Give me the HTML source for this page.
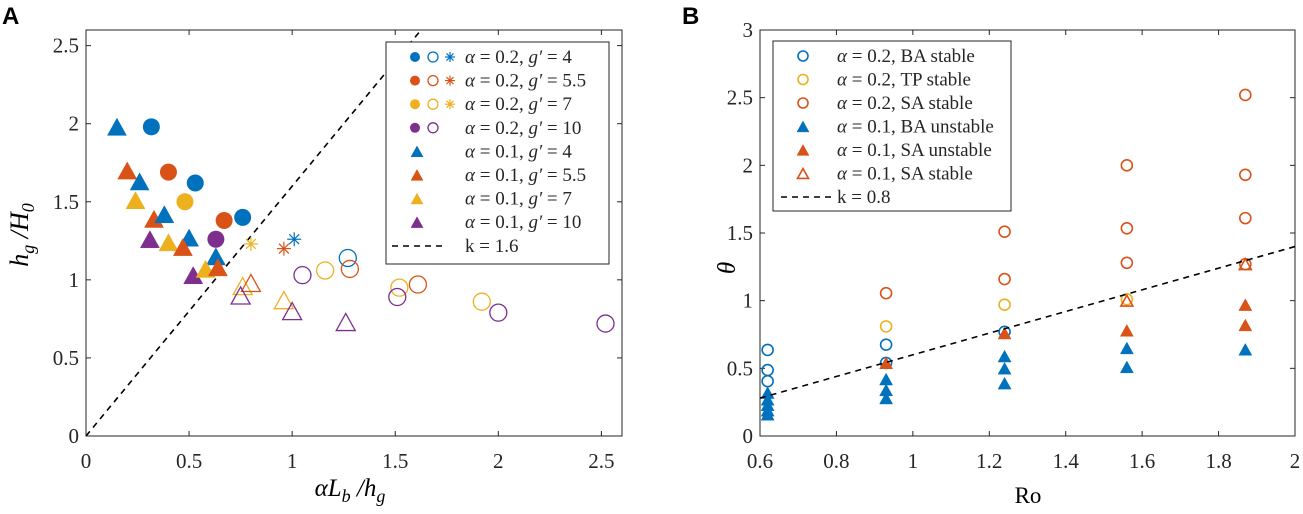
<!DOCTYPE html>
<html><head><meta charset="utf-8">
<style>
html,body{margin:0;padding:0;background:#fff;}
svg{display:block;font-family:"Liberation Serif",serif;}
.tick{font-size:21px;fill:#262626;}
.leg{font-size:19px;fill:#262626;}
</style></head>
<body>
<svg id="fig" width="1303" height="514" viewBox="0 0 1303 514" xmlns="http://www.w3.org/2000/svg">
<text x="2" y="24" font-family="Liberation Sans, sans-serif" font-weight="bold" font-size="24">A</text>
<text x="682" y="24" font-family="Liberation Sans, sans-serif" font-weight="bold" font-size="24">B</text>
<g id="A"></g>
<g id="B"></g>
<text x="28" y="235" transform="rotate(-90 28 235)" text-anchor="middle" font-size="26" font-style="italic">h<tspan font-size="18" dy="6">g</tspan><tspan dy="-6"> /H</tspan><tspan font-size="18" dy="6">0</tspan></text>
<text x="350" y="496" text-anchor="middle" font-size="25" font-style="italic">αL<tspan font-size="18" dy="6">b</tspan><tspan dy="-6"> /h</tspan><tspan font-size="18" dy="6">g</tspan></text>
<text x="735" y="268" transform="rotate(-90 735 268)" text-anchor="middle" font-size="25" font-style="italic">θ</text>
<text x="1028" y="503" text-anchor="middle" font-size="23">Ro</text>
</svg>
<script>
// ---------- Panel A data ----------
const aFilledCircleX = [0.317,0.40,0.53,0.48,0.67,0.76,0.63];
const aFilledCircleY = [1.98,1.69,1.62,1.50,1.38,1.40,1.26];
const aFilledCircleG = [4,5.5,4,7,5.5,4,10];
const aFilledTriX = [0.15,0.20,0.26,0.24,0.33,0.38,0.31,0.40,0.50,0.47,0.63,0.52,0.58,0.64];
const aFilledTriY = [1.98,1.70,1.63,1.51,1.39,1.42,1.26,1.24,1.27,1.21,1.15,1.03,1.07,1.08];
const aFilledTriG = [4,5.5,4,7,5.5,4,10,7,4,5.5,4,10,7,5.5];
const aStarX = [0.80,0.96,1.01];
const aStarY = [1.23,1.20,1.26];
const aStarG = [7,5.5,4];
const aOpenCircleX = [1.27,1.28,1.16,1.05,1.52,1.61,1.51,1.92,2.00,2.52];
const aOpenCircleY = [1.14,1.07,1.06,1.03,0.95,0.97,0.89,0.86,0.79,0.72];
const aOpenCircleG = [4,5.5,7,10,7,5.5,10,7,10,10];
const aOpenTriX = [0.76,0.80,0.75,0.96,1.00,1.26];
const aOpenTriY = [0.96,0.98,0.90,0.87,0.80,0.73];
const aOpenTriG = [7,5.5,10,7,10,10];
const aSlope = 1.6;
const aXTicks = [0,0.5,1,1.5,2,2.5];
const aYTicks = [0,0.5,1,1.5,2,2.5];
const aXTickLabels = ["0","0.5","1","1.5","2","2.5"];
const aYTickLabels = ["0","0.5","1","1.5","2","2.5"];
const aLegendLabels = ["= 0.2, g\u2032 = 4","= 0.2, g\u2032 = 5.5","= 0.2, g\u2032 = 7","= 0.2, g\u2032 = 10","= 0.1, g\u2032 = 4","= 0.1, g\u2032 = 5.5","= 0.1, g\u2032 = 7","= 0.1, g\u2032 = 10"];
const aLegendG = [4,5.5,7,10,4,5.5,7,10];
// ---------- Panel B data ----------
const bBAStableX = [0.62,0.62,0.62,0.93,0.93,1.24];
const bBAStableY = [0.636,0.487,0.405,0.675,0.54,0.77];
const bTPStableX = [0.93,1.24,1.56];
const bTPStableY = [0.81,0.97,1.01];
const bSAStableX = [0.93,1.24,1.24,1.56,1.56,1.56,1.87,1.87,1.87,1.87];
const bSAStableY = [1.055,1.51,1.16,2.00,1.535,1.28,2.52,1.93,1.61,1.27];
const bBAUnstableX = [0.62,0.62,0.62,0.62,0.62,0.93,0.93,0.93,1.24,1.24,1.24,1.56,1.56,1.87];
const bBAUnstableY = [0.32,0.27,0.23,0.19,0.16,0.42,0.34,0.28,0.59,0.50,0.39,0.65,0.51,0.64];
const bSAUnstableX = [0.93,1.24,1.56,1.87,1.87];
const bSAUnstableY = [0.54,0.76,0.78,0.97,0.82];
const bSATriStableX = [1.56,1.87];
const bSATriStableY = [1.00,1.27];
const bSlope = 0.8;
const bOffset = 0.25;
const bXTicks = [0.6,0.8,1,1.2,1.4,1.6,1.8,2];
const bYTicks = [0,0.5,1,1.5,2,2.5,3];
const bXTickLabels = ["0.6","0.8","1","1.2","1.4","1.6","1.8","2"];
const bYTickLabels = ["0","0.5","1","1.5","2","2.5","3"];
const bLegendLabels = ["= 0.2, BA stable","= 0.2, TP stable","= 0.2, SA stable","= 0.1, BA unstable","= 0.1, SA unstable","= 0.1, SA stable"];

const NS="http://www.w3.org/2000/svg";
const COL={4:"#0072BD",5.5:"#D95319",7:"#EDB120",10:"#7E2F8E"};
function mk(parent,tag,attrs){const e=document.createElementNS(NS,tag);for(const k in attrs)e.setAttribute(k,attrs[k]);parent.appendChild(e);return e;}

const axA={x0:86,x1:622,y0:436,y1:30,xmin:0,xmax:2.6,ymin:0,ymax:2.6};
const axB={x0:760,x1:1295,y0:436,y1:30,xmin:0.6,xmax:2,ymin:0,ymax:3};
function sx(ax,v){return ax.x0+(v-ax.xmin)/(ax.xmax-ax.xmin)*(ax.x1-ax.x0);}
function sy(ax,v){return ax.y0-(v-ax.ymin)/(ax.ymax-ax.ymin)*(ax.y0-ax.y1);}

function circle(g,cx,cy,r,col,filled){
  return mk(g,"circle",{cx:cx,cy:cy,r:r,fill:filled?col:"none",stroke:col,"stroke-width":filled?0:1.3});
}
function tri(g,cx,cy,s,col,filled){
  const h=s*0.9;
  return mk(g,"polygon",{points:`${cx},${cy-h/2} ${cx-s/2},${cy+h/2} ${cx+s/2},${cy+h/2}`,fill:filled?col:"none",stroke:col,"stroke-width":filled?0.5:1.3,"stroke-linejoin":"miter"});
}
function star(g,cx,cy,r,col){
  const s=mk(g,"g",{stroke:col,"stroke-width":1.2});
  for(let a=0;a<180;a+=45){const t=a*Math.PI/180;mk(s,"line",{x1:cx-r*Math.cos(t),y1:cy-r*Math.sin(t),x2:cx+r*Math.cos(t),y2:cy+r*Math.sin(t)});}
  return s;
}
function frame(g,ax,xt,yt,xl,yl,name){
  const f=mk(g,"rect",{x:ax.x0,y:ax.y1,width:ax.x1-ax.x0,height:ax.y0-ax.y1,fill:"none",stroke:"#262626","stroke-width":1});
  
  
  xt.forEach((v,i)=>{const x=sx(ax,v);
    mk(g,"line",{x1:x,y1:ax.y0,x2:x,y2:ax.y0-5,stroke:"#262626"});
    mk(g,"line",{x1:x,y1:ax.y1,x2:x,y2:ax.y1+5,stroke:"#262626"});
    const t=mk(g,"text",{x:x,y:ax.y0+32,"text-anchor":"middle",class:"tick"});t.textContent=xl[i];
    
    
  });
  yt.forEach((v,i)=>{const y=sy(ax,v);
    mk(g,"line",{x1:ax.x0,y1:y,x2:ax.x0+5,y2:y,stroke:"#262626"});
    mk(g,"line",{x1:ax.x1,y1:y,x2:ax.x1-5,y2:y,stroke:"#262626"});
    const t=mk(g,"text",{x:ax.x0-7,y:y+7,"text-anchor":"end",class:"tick"});t.textContent=yl[i];
    
    
  });
}

// ---------- Panel A ----------
const A=document.getElementById("A");
frame(A,axA,aXTicks,aYTicks,aXTickLabels,aYTickLabels,"panel-a");
const aClip=mk(A,"clipPath",{id:"clipA"});mk(aClip,"rect",{x:axA.x0,y:axA.y1,width:axA.x1-axA.x0,height:axA.y0-axA.y1});
const aLineX2=Math.min(axA.xmax,axA.ymax/aSlope);
const aLine=mk(A,"line",{x1:sx(axA,0),y1:sy(axA,0),x2:sx(axA,aLineX2),y2:sy(axA,aSlope*aLineX2),stroke:"#000","stroke-width":1.6,"stroke-dasharray":"6,5","clip-path":"url(#clipA)"});


aOpenTriX.forEach((v,i)=>{const m=tri(A,sx(axA,v),sy(axA,aOpenTriY[i]),19,COL[aOpenTriG[i]],false);
  
  });
aOpenCircleX.forEach((v,i)=>{const m=circle(A,sx(axA,v),sy(axA,aOpenCircleY[i]),8.5,COL[aOpenCircleG[i]],false);
  
  });
aStarX.forEach((v,i)=>{const m=star(A,sx(axA,v),sy(axA,aStarY[i]),7,COL[aStarG[i]]);
  
  });
aFilledCircleX.forEach((v,i)=>{const m=circle(A,sx(axA,v),sy(axA,aFilledCircleY[i]),8.5,COL[aFilledCircleG[i]],true);
  
  });
aFilledTriX.forEach((v,i)=>{const m=tri(A,sx(axA,v),sy(axA,aFilledTriY[i]),19,COL[aFilledTriG[i]],true);
  
  });
const aLeg=mk(A,"g",{});


mk(aLeg,"rect",{x:386,y:42,width:223,height:222,fill:"#fff",stroke:"#262626","stroke-width":1});
aLegendLabels.forEach((lab,i)=>{
  const y=57+i*23.6, col=COL[aLegendG[i]];
  if(i<4){circle(aLeg,415,y,5,col,true);circle(aLeg,433,y,5,col,false);if(i<3)star(aLeg,450,y,5,col);}
  else tri(aLeg,417,y,12,col,true);
  const t=mk(aLeg,"text",{x:465,y:y+6,class:"leg"});
  t.innerHTML='<tspan font-style="italic">α</tspan>  '+lab.replace("g\u2032",'<tspan font-style="italic">g\u2032</tspan>');
  t.setAttribute('xml:space','preserve');
  
  
});
mk(aLeg,"line",{x1:392,y1:246,x2:442,y2:246,stroke:"#000","stroke-width":1.6,"stroke-dasharray":"6,5"});
const aKt=mk(aLeg,"text",{x:465,y:252,class:"leg"});aKt.textContent="k = 1.6";



// ---------- Panel B ----------
const B=document.getElementById("B");
frame(B,axB,bXTicks,bYTicks,bXTickLabels,bYTickLabels,"panel-b");
const bC={ba:"#0072BD",tp:"#EDB120",sa:"#D95319"};
bBAStableX.forEach((v,i)=>{const m=circle(B,sx(axB,v),sy(axB,bBAStableY[i]),5.5,bC.ba,false);m.setAttribute("stroke-width",1.6);
  
  });
bTPStableX.forEach((v,i)=>{const m=circle(B,sx(axB,v),sy(axB,bTPStableY[i]),5.5,bC.tp,false);m.setAttribute("stroke-width",1.6);
  
  });
bSAStableX.forEach((v,i)=>{const m=circle(B,sx(axB,v),sy(axB,bSAStableY[i]),5.5,bC.sa,false);m.setAttribute("stroke-width",1.6);
  
  });
bBAUnstableX.forEach((v,i)=>{const m=tri(B,sx(axB,v),sy(axB,bBAUnstableY[i]),13,bC.ba,true);
  
  });
bSAUnstableX.forEach((v,i)=>{const m=tri(B,sx(axB,v),sy(axB,bSAUnstableY[i]),13,bC.sa,true);
  
  });
bSATriStableX.forEach((v,i)=>{const m=tri(B,sx(axB,v),sy(axB,bSATriStableY[i]),12,bC.sa,false);m.setAttribute("stroke-width",1.6);
  
  });
const bLine=mk(B,"line",{x1:sx(axB,axB.xmin),y1:sy(axB,bSlope*(axB.xmin-bOffset)),x2:sx(axB,axB.xmax),y2:sy(axB,bSlope*(axB.xmax-bOffset)),stroke:"#000","stroke-width":1.6,"stroke-dasharray":"6,5"});


const bLeg=mk(B,"g",{});


mk(bLeg,"rect",{x:773,y:41,width:238,height:170,fill:"#fff",stroke:"#262626","stroke-width":1});
const bLegCols=[bC.ba,bC.tp,bC.sa,bC.ba,bC.sa,bC.sa];
bLegendLabels.forEach((lab,i)=>{
  const y=56+i*23.5, col=bLegCols[i];
  if(i<3){const c=circle(bLeg,803,y,5,col,false);c.setAttribute("stroke-width",1.6);}
  else if(i<5) tri(bLeg,803,y,12,col,true);
  else {const p=tri(bLeg,803,y,11,col,false);p.setAttribute("stroke-width",1.6);}
  const t=mk(bLeg,"text",{x:837,y:y+6,class:"leg"});
  t.innerHTML='<tspan font-style="italic">α</tspan>  '+lab;
  t.setAttribute('xml:space','preserve');
  
  
});
mk(bLeg,"line",{x1:781,y1:197,x2:832,y2:197,stroke:"#000","stroke-width":1.6,"stroke-dasharray":"6,5"});
const bKt=mk(bLeg,"text",{x:837,y:203,class:"leg"});bKt.textContent="k = 0.8";


</script>
</body></html>
